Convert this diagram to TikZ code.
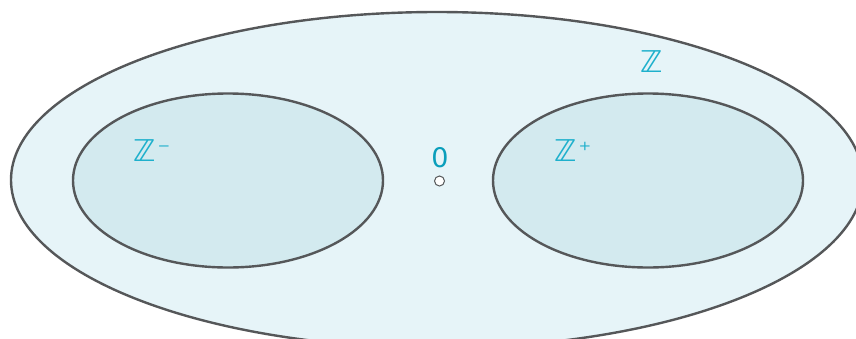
\documentclass[tikz,border=0pt]{standalone}
\usepackage{fontspec}
\setmainfont{DejaVu Sans}
\definecolor{outerfill}{HTML}{E6F4F8}
\definecolor{innerfill}{HTML}{D3EAEF}
\definecolor{edge}{HTML}{555759}
\definecolor{labelc}{HTML}{1EB0CC}
\definecolor{zeroc}{HTML}{0A9EBB}
\newcommand{\supsign}[1]{\hspace{2pt}{\fontsize{24}{24}\selectfont\raisebox{3pt}{#1}}}
\tikzset{
  setbox/.style={draw=edge, line width=2.4pt},
  setlabel/.style={text=labelc, font=\fontsize{30}{30}\selectfont, inner sep=0pt, anchor=base west},
}
\begin{document}
\begin{tikzpicture}[x=1pt,y=-1pt]
\useasboundingbox (0,0) rectangle (856,338);
\begin{scope}
\clip (0,0) rectangle (856,338);
\draw[setbox, fill=outerfill] (437,180) ellipse [x radius=426, y radius=168];
\end{scope}
\draw[setbox, fill=innerfill] (228,180.5) ellipse [x radius=155, y radius=87];
\draw[setbox, fill=innerfill] (648,180.5) ellipse [x radius=155, y radius=87];
\node[circle, draw=edge, fill=white, line width=1pt, minimum size=10pt, inner sep=0pt] (zero) at (439.5,181) {};
\node[text=zeroc, font=\fontsize{27}{27}\selectfont, inner sep=0pt, anchor=base] (zerolabel) at (440,167.5) {0};
\node[setlabel] (zminus) at (133,161) {ℤ\supsign{⁻}};
\node[setlabel] (zplus) at (554,161) {ℤ\supsign{⁺}};
\node[setlabel] (zall) at (640,72.5) {ℤ};
\end{tikzpicture}
\end{document}
